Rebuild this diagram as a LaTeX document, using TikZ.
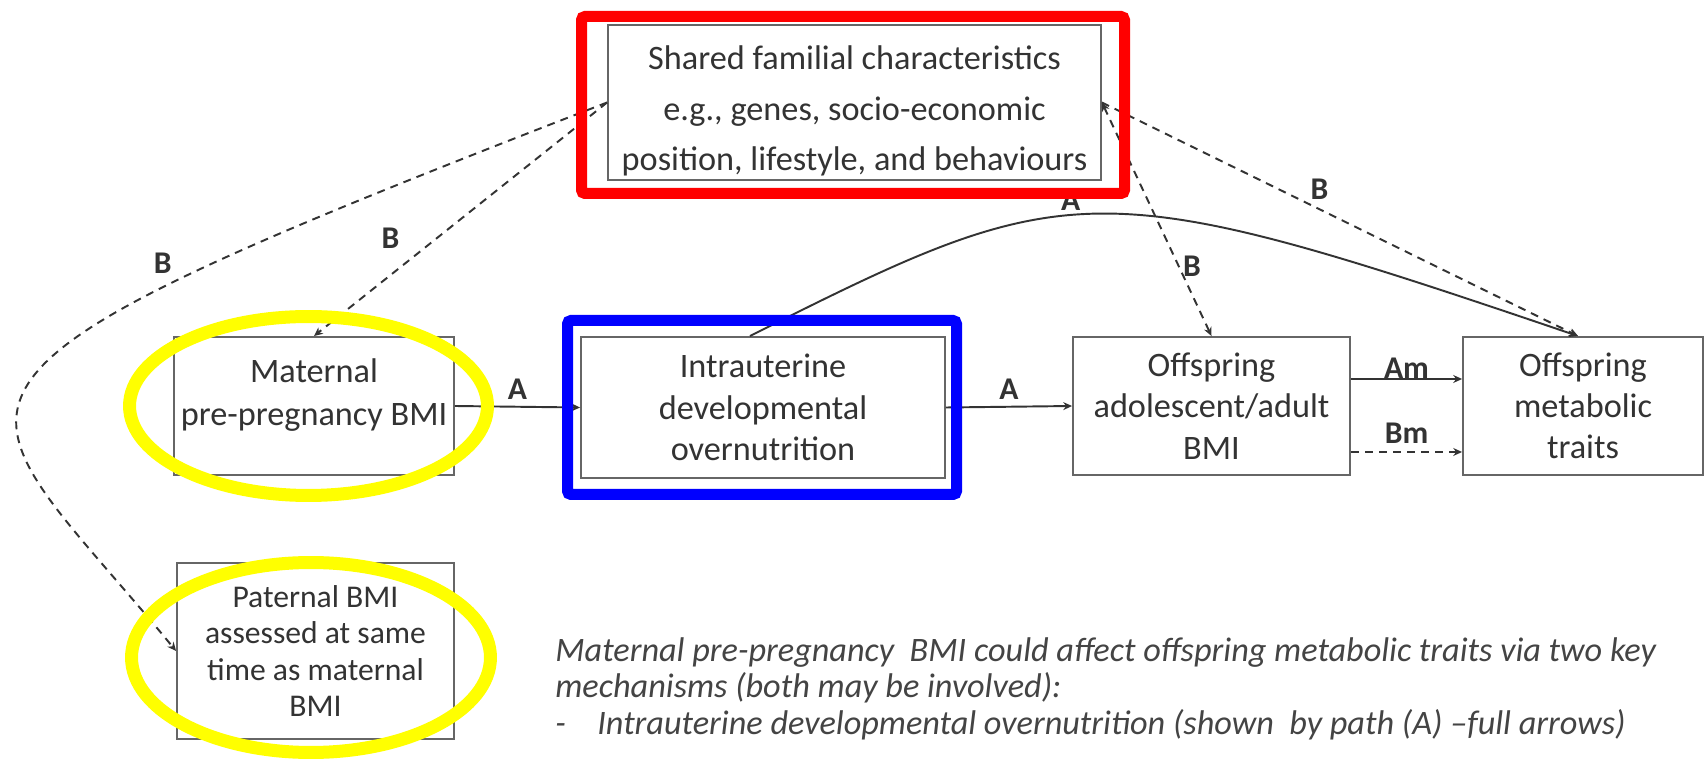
\documentclass[tikz,border=0pt]{standalone}
\usepackage{fontspec}
\setmainfont{Carlito}
\usetikzlibrary{arrows.meta}

\definecolor{boxline}{HTML}{666666}
\definecolor{ink}{HTML}{333333}
\definecolor{notegray}{HTML}{444444}
\definecolor{markred}{HTML}{FF0000}
\definecolor{markblue}{HTML}{0000FF}
\definecolor{markyellow}{HTML}{FFFF00}

\begin{document}
\begin{tikzpicture}[
        x=0.02cm, y=-0.02cm,
        >={Stealth[length=5pt,width=4.5pt]},
        factor/.style={draw=boxline, line width=1.1pt, text=ink, align=center, inner sep=2pt,
            font=\fontsize{19.5}{23.5}\selectfont},
        path A/.style={->, ink, line width=1.1pt},
        path B/.style={->, ink, line width=1.1pt, dash pattern=on 4.5pt off 3.5pt},
        path label/.style={text=ink, inner sep=2pt, font=\fontsize{18}{20}\selectfont\bfseries},
        mark box/.style={line width=0.22cm, rounded corners=2pt},
        mark ring/.style={draw=markyellow, line width=0.26cm}
      ]

      \useasboundingbox (0,0) rectangle (1704,759);
      \fill[white] (0,0) rectangle (1704,759);

      % boxes of the causal diagram
      \node[factor, minimum width=9.86cm, minimum height=2.78cm, font=\fontsize{19.5}{28.7}\selectfont] (shared) at (854.5,102.5)
        {\rule{0pt}{23.5pt}Shared familial characteristics\\e.g.,\ genes, socio-economic\\position, lifestyle, and behaviours};
      \node[factor, minimum width=5.6cm, minimum height=2.76cm, font=\fontsize{19.5}{24.6}\selectfont] (maternal) at (314,406)
        {Maternal\\pre-pregnancy BMI\rule[-15.5pt]{0pt}{15.5pt}};
      \node[factor, minimum width=7.28cm, minimum height=2.82cm] (intra) at (763,407.5)
        {Intrauterine\\developmental\\overnutrition};
      \node[factor, minimum width=5.54cm, minimum height=2.76cm] (offbmi) at (1211.5,406)
        {Offspring\\adolescent/adult\\BMI};
      \node[factor, minimum width=4.8cm, minimum height=2.76cm] (offmet) at (1583,406)
        {Offspring\\metabolic\\traits};
      \node[factor, minimum width=5.54cm, minimum height=3.52cm, font=\fontsize{18}{20.8}\selectfont] (paternal) at (315.5,651)
        {Paternal BMI\\assessed at same\\time as maternal\\BMI};

      % path A: full arrows
      \draw[path A] (maternal.east) -- node[path label, above=1.5pt] {A} (intra.west);
      \draw[path A] (intra.east) -- node[path label, above=1.5pt] {A} (offbmi.west);
      \draw[path A] ([yshift=0.54cm]offbmi.east) -- node[path label, above=-2.5pt] {Am} ([yshift=0.54cm]offmet.west);
      \draw[path A] ([xshift=-0.26cm]intra.north) .. controls (1070,175) and (1093,171) ..
        node[path label, pos=0.45, above] {A} ([xshift=-0.1cm]offmet.north);

      % path B: shared characteristics, dashed arrows
      \draw[path B] ([yshift=-0.92cm]offbmi.east) -- node[path label, above=2pt] {Bm} ([yshift=-0.92cm]offmet.west);
      \draw[path B] (shared.west) -- node[path label, pos=0.58, left=19pt] {B} (maternal.north);
      \draw[path B] (shared.west) .. controls (-142,392) and (-44,383) ..
        node[path label, pos=0.25, xshift=-0.6cm, yshift=0.18cm] {B} (paternal.west);
      \draw[path B, <->] (shared.east) -- node[path label, pos=0.7, right=0pt] {B} (offbmi.north);
      \draw[path B] (shared.east) -- node[path label, pos=0.37, right=16pt] {B} ([xshift=-0.1cm]offmet.north);

      \node[anchor=north west, inner sep=0pt, align=left, text=notegray,
            font=\fontsize{19.5}{20.8}\selectfont\itshape] (note) at (555,637)
        {Maternal pre-pregnancy\ \ BMI could affect offspring metabolic traits via two key\\
         mechanisms (both may be involved):\\
         \makebox[0.84cm][l]{-}Intrauterine developmental overnutrition (shown\ \ by path (A) --full arrows)};

      % highlights on top
      \draw[mark box, draw=markred] (581.5,16.5) rectangle (1124.5,193.5);
      \draw[mark box, draw=markblue] (567.5,320.5) rectangle (956.5,494.5);
      \draw[mark ring] (308.5,406) ellipse [x radius=3.58cm, y radius=1.79cm];
      \draw[mark ring] (311,657.5) ellipse [x radius=3.59cm, y radius=1.9cm];

    \end{tikzpicture}
\end{document}
